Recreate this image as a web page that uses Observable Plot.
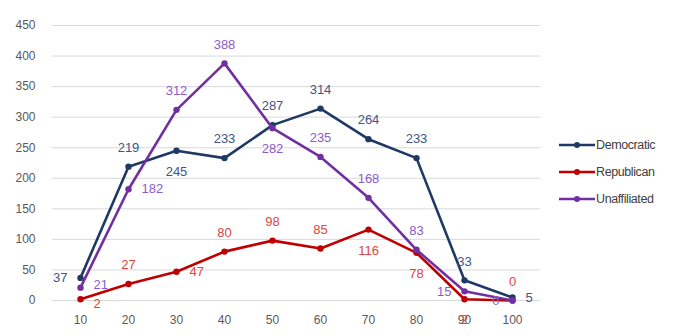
<!DOCTYPE html>
<html>
<head>
<meta charset="utf-8">
<script src="https://cdn.jsdelivr.net/npm/d3@7"></script>
<script src="https://cdn.jsdelivr.net/npm/@observablehq/plot@0.6"></script>
<style>
  body { margin: 0; background: #fff; font-family: "Liberation Sans", Arial, sans-serif; }
  #wrap { position: relative; width: 685px; height: 336px; overflow: hidden; }
  #legend { position: absolute; left: 559px; top: 131px; }
  .row { display: flex; align-items: center; height: 27px; font-size: 12.5px; color: #404040; letter-spacing: -0.4px; }
  .row svg { margin-right: 1px; }
</style>
</head>
<body>
<div id="wrap"><div id="chart"></div><div id="legend"></div></div>
<script>
// ---- data ----
const categories = [10, 20, 30, 40, 50, 60, 70, 80, 90, 100];
const seriesNames = ["Democratic", "Republican", "Unaffiliated"];
const democratic = [37, 219, 245, 233, 287, 314, 264, 233, 33, 5];
const republican = [2, 27, 47, 80, 98, 85, 116, 78, 2, 0];
const unaffiliated = [21, 182, 312, 388, 282, 235, 168, 83, 15, 0];
const yTicks = [0, 50, 100, 150, 200, 250, 300, 350, 400, 450];

// ---- styles ----
const lineColors = { Democratic: "#1f3864", Republican: "#c00000", Unaffiliated: "#7030a0" };
const labelColors = { Democratic: "#3d5687", Republican: "#e0453f", Unaffiliated: "#8b5cc9" };
const labelPlacement = {
  Democratic:   ["left", "above", "below", "above", "above", "above", "above", "above", "above", "right"],
  Republican:   ["belowRight", "above", "right", "above", "above", "above", "below", "below", "below", "above"],
  Unaffiliated: ["aboveRight", "right", "above", "above", "below", "above", "above", "above", "left", "left"]
};
const placementStyle = {
  above: { dx: 0, dy: -19, textAnchor: "middle" },
  below: { dx: 0, dy: 21, textAnchor: "middle" },
  left:  { dx: -13, dy: 0, textAnchor: "end" },
  right: { dx: 13, dy: 0, textAnchor: "start" },
  aboveRight: { dx: 13, dy: -3, textAnchor: "start" },
  belowRight: { dx: 13, dy: 5, textAnchor: "start" }
};

const valuesBySeries = { Democratic: democratic, Republican: republican, Unaffiliated: unaffiliated };
const rows = seriesNames.flatMap(s =>
  categories.map((c, i) => ({ series: s, cat: c, value: valuesBySeries[s][i], place: labelPlacement[s][i] }))
);

const marks = [
  Plot.ruleY(yTicks, { stroke: "#d9d9d9", strokeWidth: 1 })
];
for (const s of seriesNames) {
  const d = rows.filter(r => r.series === s);
  marks.push(Plot.line(d, { x: "cat", y: "value", stroke: lineColors[s], strokeWidth: 2.6 }));
  marks.push(Plot.dot(d, { x: "cat", y: "value", fill: lineColors[s], r: 3.2 }));
}
for (const s of seriesNames) {
  for (const p of Object.keys(placementStyle)) {
    const d = rows.filter(r => r.series === s && r.place === p);
    if (!d.length) continue;
    const st = placementStyle[p];
    marks.push(Plot.text(d, {
      x: "cat", y: "value", text: d => String(d.value),
      fill: labelColors[s], fontSize: 13, dx: st.dx, dy: st.dy,
      textAnchor: st.textAnchor, lineAnchor: "middle"
    }));
  }
}

const chart = Plot.plot({
  width: 550,
  height: 336,
  marginLeft: 52,
  marginRight: 10,
  marginTop: 25,
  marginBottom: 36,
  style: { fontFamily: "Liberation Sans, Arial, sans-serif", fontSize: "12px", color: "#595959", background: "#fff", overflow: "visible" },
  x: { type: "point", domain: categories, padding: 0.5, tickSize: 0, tickPadding: 15, label: null },
  y: { domain: [0, 450], ticks: yTicks, tickSize: 0, tickPadding: 17, label: null },
  marks
});
document.getElementById("chart").appendChild(chart);

// ---- legend ----
const legend = document.getElementById("legend");
for (const s of seriesNames) {
  const row = document.createElement("div");
  row.className = "row";
  row.innerHTML = `<svg width="36" height="10"><line x1="0" y1="5" x2="36" y2="5" stroke="${lineColors[s]}" stroke-width="2.6"/><circle cx="18" cy="5" r="3" fill="${lineColors[s]}"/></svg><span>${s}</span>`;
  legend.appendChild(row);
}
</script>
</body>
</html>
